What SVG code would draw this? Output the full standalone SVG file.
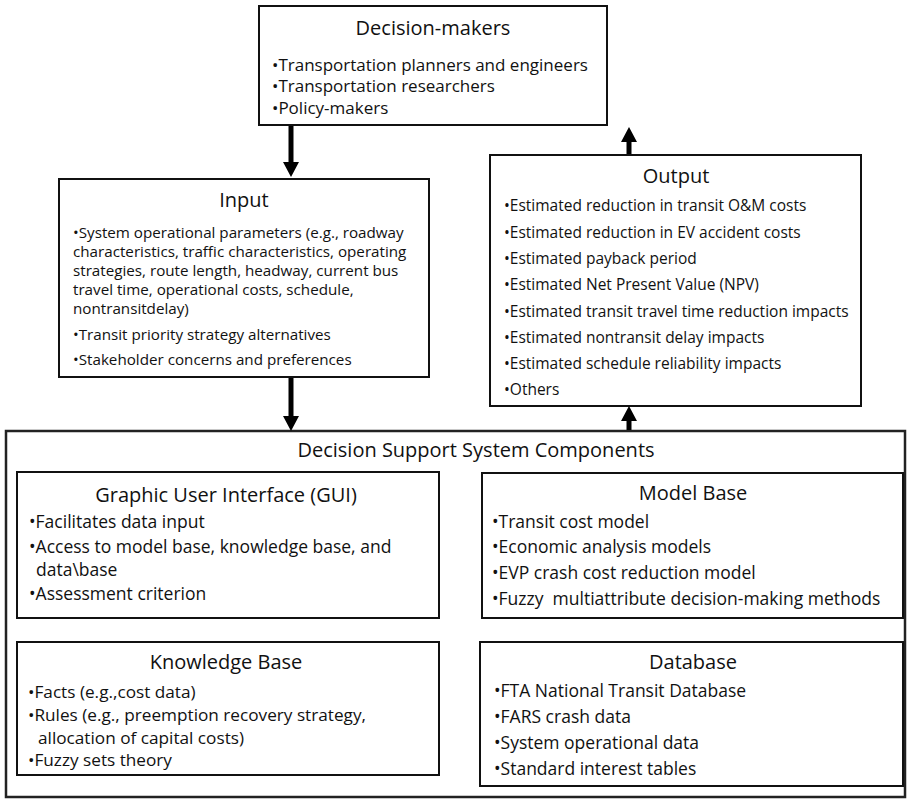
<svg xmlns="http://www.w3.org/2000/svg" width="911" height="799" viewBox="0 0 911 799">
<style>
.box{fill:#fff;stroke:#111;stroke-width:2}
.outer{fill:#fff;stroke:#222;stroke-width:2.5}
text{font-family:"Open Sans","DejaVu Sans",sans-serif;fill:#111}
.t{font-size:20px;text-anchor:middle}
.b{font-size:15.5px}
.bi{font-size:15.2px}
.bl{font-size:17px}
.bk{font-size:17.5px}
.kb{font-size:17.2px}
.conn{stroke:#000;stroke-width:5;fill:none}
</style>
<defs>
<marker id="ah" markerUnits="userSpaceOnUse" markerWidth="16" markerHeight="16" viewBox="0 0 15 16" refX="0" refY="8" orient="auto">
<path d="M0,0 L15,8 L0,16 Z" fill="#000"/>
</marker>
</defs>
<g id="dss">
<rect class="outer" x="6" y="431" width="899" height="366"/>
<text class="t" x="476" y="457">Decision Support System Components</text>
</g>
<g id="decision-makers">
<rect class="box" x="259" y="6" width="348" height="119"/>
<text class="t" x="433" y="35">Decision-makers</text>
<text class="bl" x="272" y="71">•Transportation planners and engineers</text>
<text class="bl" x="272" y="92">•Transportation researchers</text>
<text class="bl" x="272" y="114">•Policy-makers</text>
</g>
<g id="input">
<rect class="box" x="59" y="179" width="370" height="198"/>
<text class="t" x="244" y="207">Input</text>
<text class="bi" x="73" y="238">•System operational parameters (e.g., roadway</text>
<text class="bi" x="73" y="257">characteristics, traffic characteristics, operating</text>
<text class="bi" x="73" y="276">strategies, route length, headway, current bus</text>
<text class="bi" x="73" y="295">travel time, operational costs, schedule,</text>
<text class="bi" x="73" y="314">nontransitdelay)</text>
<text class="bi" x="73" y="340">•Transit priority strategy alternatives</text>
<text class="bi" x="73" y="365">•Stakeholder concerns and preferences</text>
</g>
<g id="output">
<rect class="box" x="490" y="155" width="371" height="251"/>
<text class="t" x="676" y="183">Output</text>
<text class="b" x="504" y="211">•Estimated reduction in transit O&amp;M costs</text>
<text class="b" x="504" y="237.5">•Estimated reduction in EV accident costs</text>
<text class="b" x="504" y="264">•Estimated payback period</text>
<text class="b" x="504" y="290">•Estimated Net Present Value (NPV)</text>
<text class="b" x="504" y="316.5">•Estimated transit travel time reduction impacts</text>
<text class="b" x="504" y="343">•Estimated nontransit delay impacts</text>
<text class="b" x="504" y="369">•Estimated schedule reliability impacts</text>
<text class="b" x="504" y="395">•Others</text>
</g>
<g id="gui">
<rect class="box" x="17" y="472" width="422" height="146"/>
<text class="t" x="226" y="502">Graphic User Interface (GUI)</text>
<text class="bk" x="29" y="528">•Facilitates data input</text>
<text class="bk" x="29" y="553">•Access to model base, knowledge base, and</text>
<text class="bk" x="36" y="576">data\base</text>
<text class="bk" x="29" y="600">•Assessment criterion</text>
</g>
<g id="model-base">
<rect class="box" x="482" y="473" width="421" height="145"/>
<text class="t" x="693" y="500">Model Base</text>
<text class="bk" x="492" y="528">•Transit cost model</text>
<text class="bk" x="492" y="553">•Economic analysis models</text>
<text class="bk" x="492" y="579">•EVP crash cost reduction model</text>
<text class="bk" x="492" y="605">•Fuzzy&#160; multiattribute decision-making methods</text>
</g>
<g id="knowledge-base">
<rect class="box" x="17" y="642" width="422" height="133"/>
<text class="t" x="226" y="669">Knowledge Base</text>
<text class="kb" x="28" y="698">•Facts (e.g.,cost data)</text>
<text class="kb" x="28" y="721">•Rules (e.g., preemption recovery strategy,</text>
<text class="kb" x="38" y="744">allocation of capital costs)</text>
<text class="kb" x="28" y="766">•Fuzzy sets theory</text>
</g>
<g id="database">
<rect class="box" x="480" y="642" width="423" height="144"/>
<text class="t" x="693" y="669">Database</text>
<text class="bk" x="494" y="697">•FTA National Transit Database</text>
<text class="bk" x="494" y="723">•FARS crash data</text>
<text class="bk" x="494" y="749">•System operational data</text>
<text class="bk" x="494" y="775">•Standard interest tables</text>
</g>
<g id="connectors">
<line class="conn" x1="291" y1="126" x2="291" y2="162" marker-end="url(#ah)"/>
<line class="conn" x1="629" y1="154" x2="629" y2="142" marker-end="url(#ah)"/>
<line class="conn" x1="291" y1="378" x2="291" y2="416" marker-end="url(#ah)"/>
<line class="conn" x1="629" y1="430" x2="629" y2="421" marker-end="url(#ah)"/>
</g>
</svg>
